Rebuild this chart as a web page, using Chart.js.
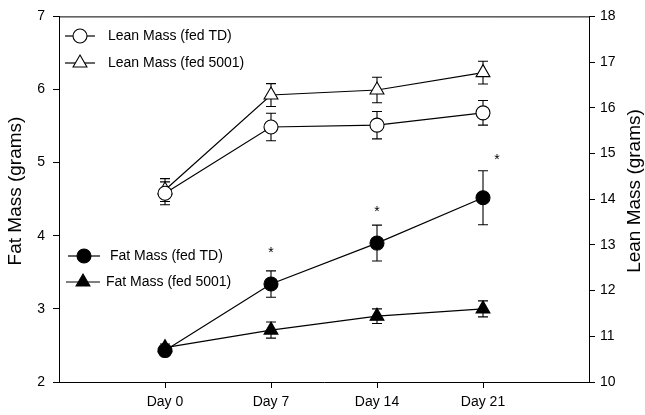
<!DOCTYPE html>
<html>
<head>
<meta charset="utf-8">
<script src="https://cdn.jsdelivr.net/npm/chart.js@4.4.0/dist/chart.umd.min.js"></script>
<style>
  html, body { margin: 0; padding: 0; background: #fff; }
  #wrap { width: 645px; height: 415px; }
</style>
</head>
<body>
<div id="wrap"><canvas id="massChart" width="645" height="415"></canvas></div>
<script>
// time points
const categories = ['Day 0', 'Day 7', 'Day 14', 'Day 21'];

// fat mass, left axis (grams)
const fatTD = [2.43, 3.34, 3.90, 4.52];
const fatTDErr = [0.05, 0.18, 0.245, 0.37];
const fat5001 = [2.47, 2.71, 2.90, 3.00];
const fat5001Err = [0.05, 0.11, 0.10, 0.11];

// lean mass, right axis (grams)
const leanTD = [14.13, 15.58, 15.62, 15.89];
const leanTDErr = [0.25, 0.30, 0.30, 0.27];
const lean5001 = [14.20, 16.28, 16.39, 16.77];
const lean5001Err = [0.25, 0.25, 0.28, 0.25];

// significance markers on fat mass (fed TD)
const fatTDSignificant = [false, true, true, true];

// axis ranges
const fatTicks = [2, 7];
const leanTicks = [10, 18];

const FONT = '"Liberation Sans", Arial, Helvetica, sans-serif';
Chart.defaults.font.family = FONT;
Chart.defaults.color = '#000';

const toPoints = vals => vals.map((v, i) => ({ x: i, y: v }));

function series(label, vals, errs, axis, style, filled) {
  return {
    label: label,
    data: toPoints(vals),
    errors: errs,
    yAxisID: axis,
    borderColor: '#000',
    borderWidth: 1.2,
    pointStyle: style,
    pointRadius: style === 'triangle' ? 8 : 7,
    pointBackgroundColor: filled ? '#000' : '#fff',
    pointBorderColor: '#000',
    pointBorderWidth: 1.1,
    fill: false,
    tension: 0
  };
}

// error bars, drawn under the markers
const errorBars = {
  id: 'errorBars',
  beforeDatasetsDraw(chart) {
    const ctx = chart.ctx;
    ctx.save();
    ctx.strokeStyle = '#000';
    ctx.lineWidth = 1.1;
    chart.data.datasets.forEach((ds, di) => {
      const meta = chart.getDatasetMeta(di);
      const yScale = chart.scales[ds.yAxisID];
      meta.data.forEach((el, i) => {
        const v = ds.data[i].y, e = ds.errors[i];
        const top = yScale.getPixelForValue(v + e);
        const bot = yScale.getPixelForValue(v - e);
        ctx.beginPath();
        ctx.moveTo(el.x, top); ctx.lineTo(el.x, bot);
        ctx.moveTo(el.x - 5, top); ctx.lineTo(el.x + 5, top);
        ctx.moveTo(el.x - 5, bot); ctx.lineTo(el.x + 5, bot);
        ctx.stroke();
      });
    });
    ctx.restore();
  }
};

// frame, asterisks, split legends and axis titles
const decorations = {
  id: 'decorations',
  afterDraw(chart, args, opts) {
    const ctx = chart.ctx;
    const area = chart.chartArea;
    ctx.save();

    // top border
    ctx.strokeStyle = '#000';
    ctx.lineWidth = 1;
    ctx.beginPath();
    ctx.moveTo(area.left, area.top + 0.5);
    ctx.lineTo(area.right, area.top + 0.5);
    ctx.stroke();

    // asterisks above fat mass (fed TD) error bars
    const ds = chart.data.datasets[0];
    const meta = chart.getDatasetMeta(0);
    const yScale = chart.scales[ds.yAxisID];
    ctx.fillStyle = '#000';
    ctx.font = '14px ' + FONT;
    ctx.textAlign = 'center';
    ctx.textBaseline = 'middle';
    fatTDSignificant.forEach((sig, i) => {
      if (!sig) return;
      const top = yScale.getPixelForValue(ds.data[i].y + ds.errors[i]);
      const off = opts.starOffsets[i];
      ctx.fillText('*', meta.data[i].x + off[0], top - off[1]);
    });

    // legends
    ctx.font = '14px ' + FONT;
    ctx.textAlign = 'left';
    opts.legend.forEach(item => {
      const d = chart.data.datasets[item.dataset];
      ctx.strokeStyle = '#000';
      ctx.lineWidth = 1.2;
      ctx.beginPath();
      ctx.moveTo(item.x0, item.y);
      ctx.lineTo(item.x1, item.y);
      ctx.stroke();
      ctx.fillStyle = d.pointBackgroundColor;
      ctx.lineWidth = d.pointBorderWidth;
      Chart.helpers.drawPoint(ctx, {
        pointStyle: d.pointStyle,
        radius: d.pointRadius,
        rotation: 0,
        borderWidth: d.pointBorderWidth
      }, item.mx, item.y);
      ctx.fillStyle = '#000';
      ctx.fillText(d.label, item.tx, item.y);
    });

    // axis titles, both reading bottom to top
    ctx.font = '19px ' + FONT;
    ctx.textAlign = 'center';
    ctx.textBaseline = 'middle';
    const midY = 191;
    [[16, 'Fat Mass (grams)'], [635, 'Lean Mass (grams)']].forEach(([x, t]) => {
      ctx.save();
      ctx.translate(x, midY);
      ctx.rotate(-Math.PI / 2);
      ctx.fillText(t, 0, 0);
      ctx.restore();
    });

    ctx.restore();
  }
};

const axisStyle = {
  border: { display: true, color: '#000', width: 1 },
  grid: { drawOnChartArea: false, drawTicks: true, tickLength: 6, color: '#000', tickWidth: 1 }
};

new Chart(document.getElementById('massChart'), {
  type: 'line',
  data: {
    datasets: [
      series('Fat Mass (fed TD)', fatTD, fatTDErr, 'y', 'circle', true),
      series('Fat Mass (fed 5001)', fat5001, fat5001Err, 'y', 'triangle', true),
      series('Lean Mass (fed TD)', leanTD, leanTDErr, 'y1', 'circle', false),
      series('Lean Mass (fed 5001)', lean5001, lean5001Err, 'y1', 'triangle', false)
    ]
  },
  options: {
    responsive: false,
    animation: false,
    layout: { padding: { top: 10, left: 0, right: 0, bottom: 0 } },
    plugins: {
      legend: { display: false },
      tooltip: { enabled: false },
      decorations: {
        starOffsets: [[0, 0], [0, 18], [0, 13], [14, 11]],
        legend: [
          { dataset: 2, x0: 65, x1: 95, mx: 80, tx: 108, y: 36 },
          { dataset: 3, x0: 65, x1: 95, mx: 80, tx: 108, y: 63 },
          { dataset: 0, x0: 68, x1: 100, mx: 84, tx: 110, y: 256 },
          { dataset: 1, x0: 66, x1: 100, mx: 83, tx: 106, y: 282 }
        ]
      }
    },
    scales: {
      x: {
        type: 'linear',
        min: -1,
        max: categories.length,
        ...axisStyle,
        afterBuildTicks: s => { s.ticks = categories.map((c, i) => ({ value: i })); },
        afterFit: s => { s.height = 33; },
        ticks: {
          font: { size: 14 },
          padding: 6,
          maxRotation: 0,
          callback: v => categories[v] ?? ''
        }
      },
      y: {
        position: 'left',
        min: fatTicks[0],
        max: fatTicks[1],
        ...axisStyle,
        afterFit: s => { s.width = 59; },
        ticks: { stepSize: 1, font: { size: 14 }, padding: 8 }
      },
      y1: {
        position: 'right',
        min: leanTicks[0],
        max: leanTicks[1],
        ...axisStyle,
        afterFit: s => { s.width = 56; },
        ticks: { stepSize: 1, font: { size: 14 }, padding: 5 }
      }
    }
  },
  plugins: [errorBars, decorations]
});
</script>
</body>
</html>
